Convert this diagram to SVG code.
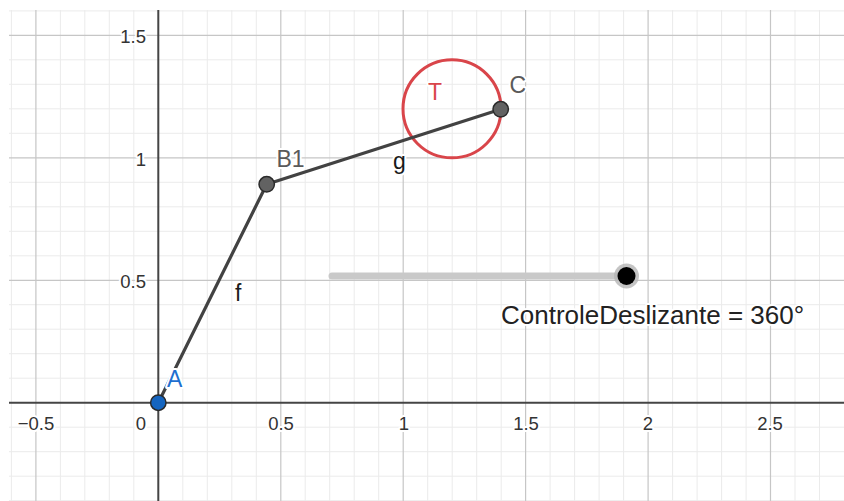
<svg xmlns="http://www.w3.org/2000/svg" width="844" height="501" viewBox="0 0 844 501">
<style>
.minor{stroke:#ebebeb;stroke-width:1;fill:none}
.major{stroke:#c6c6c6;stroke-width:1.2;fill:none}
.axis{stroke:#454545;stroke-width:2;fill:none}
.seg{stroke:#424242;stroke-width:3.2;stroke-linecap:round;fill:none}
text{font-family:"Liberation Sans",Arial,sans-serif;paint-order:stroke;stroke:#fff;stroke-width:4;stroke-linejoin:round}
.tick{font-size:18.5px;fill:#333}
.lbl{font-size:23px}
.pt{stroke:#2a2a2a;stroke-width:1.5}
</style>
<rect width="844" height="501" fill="#fff"/>
<g id="grid">
<path class="minor" d="M11.4 10V501M60.4 10V501M84.8 10V501M109.3 10V501M133.8 10V501M182.8 10V501M207.3 10V501M231.8 10V501M256.3 10V501M305.2 10V501M329.7 10V501M354.2 10V501M378.7 10V501M427.7 10V501M452.2 10V501M476.7 10V501M501.2 10V501M550.1 10V501M574.6 10V501M599.1 10V501M623.6 10V501M672.6 10V501M697.1 10V501M721.6 10V501M746.1 10V501M795 10V501M819.5 10V501
M9 500.7H844M9 476.2H844M9 451.7H844M9 427.2H844M9 378.2H844M9 353.7H844M9 329.2H844M9 304.7H844M9 255.8H844M9 231.3H844M9 206.8H844M9 182.3H844M9 133.3H844M9 108.8H844M9 84.3H844M9 59.8H844M9 10.9H844"/>
<path class="major" d="M35.9 10V501M280.8 10V501M403.2 10V501M525.6 10V501M648.1 10V501M770.5 10V501M9 280.3H844M9 157.8H844M9 35.4H844"/>
</g>
<g id="axes">
<path class="axis" d="M9 402.7H844M158.3 10V501"/>
<text class="tick" x="36" y="430" text-anchor="middle">−0.5</text>
<text class="tick" x="146" y="430" text-anchor="end">0</text>
<text class="tick" x="281" y="430" text-anchor="middle">0.5</text>
<text class="tick" x="404" y="430" text-anchor="middle">1</text>
<text class="tick" x="526" y="430" text-anchor="middle">1.5</text>
<text class="tick" x="648" y="430" text-anchor="middle">2</text>
<text class="tick" x="770" y="430" text-anchor="middle">2.5</text>
<text class="tick" x="146" y="288" text-anchor="end">0.5</text>
<text class="tick" x="146" y="166" text-anchor="end">1</text>
<text class="tick" x="146" y="43" text-anchor="end">1.5</text>
</g>
<g id="T">
<circle cx="452" cy="108.8" r="49" fill="none" stroke="#d9454a" stroke-width="3"/>
<text class="lbl" x="428" y="100" fill="#d9454a">T</text>
</g>
<g id="connectors">
<line id="f" class="seg" x1="158.3" y1="402.7" x2="266.7" y2="184.3"/>
<line id="g" class="seg" x1="266.7" y1="184.3" x2="500.7" y2="109.3"/>
</g>
<g id="labels">
<text class="lbl" x="235" y="301" fill="#1a1a1a">f</text>
<text class="lbl" x="393" y="169" fill="#1a1a1a">g</text>
</g>
<g id="slider">
<line x1="332" y1="276" x2="626" y2="276" stroke="#c9c9c9" stroke-width="7" stroke-linecap="round"/>
<circle cx="626.5" cy="276" r="12.5" fill="#b5b5b5" opacity="0.8"/>
<circle cx="626.5" cy="276" r="9" fill="#000"/>
<text x="501" y="323.5" font-size="26" fill="#222">ControleDeslizante = 360°</text>
</g>
<g id="A">
<text class="lbl" x="167" y="386.5" fill="#1e6fd0">A</text>
<circle class="pt" cx="158.3" cy="402.7" r="7.7" fill="#1565c0"/>
</g>
<g id="B1">
<text class="lbl" x="276.5" y="166.7" fill="#5a5a5a">B1</text>
<circle class="pt" cx="266.7" cy="184.3" r="7.7" fill="#626262"/>
</g>
<g id="C">
<text class="lbl" x="509.5" y="93" fill="#5a5a5a">C</text>
<circle class="pt" cx="500.7" cy="109.3" r="7.7" fill="#626262"/>
</g>
</svg>
